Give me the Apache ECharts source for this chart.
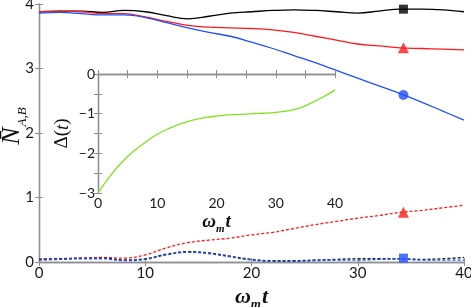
<!DOCTYPE html>
<html><head><meta charset="utf-8">
<script src="https://cdn.jsdelivr.net/npm/echarts@6/dist/echarts.min.js"></script>
<style>html,body{margin:0;padding:0;background:#fff}#c{width:471px;height:307px}</style>
</head><body><div id="c"></div>
<script>
const t = [0,2,4,6,8,10,12,14,16,18,20,22,24,26,28,30,32,34,36,38,40];
const blackSolid = [3.88,3.89,3.89,3.87,3.90,3.88,3.82,3.77,3.81,3.86,3.88,3.90,3.91,3.90,3.88,3.86,3.89,3.92,3.92,3.91,3.88];
const redSolid   = [3.88,3.89,3.88,3.85,3.85,3.80,3.73,3.67,3.64,3.63,3.62,3.60,3.56,3.50,3.44,3.38,3.35,3.32,3.31,3.30,3.29];
const blueSolid  = [3.86,3.87,3.85,3.83,3.83,3.79,3.71,3.63,3.56,3.50,3.41,3.31,3.20,3.09,2.97,2.85,2.73,2.61,2.48,2.34,2.20];
const redDash    = [0.05,0.05,0.06,0.07,0.06,0.11,0.22,0.30,0.34,0.37,0.42,0.46,0.52,0.58,0.63,0.68,0.72,0.77,0.80,0.84,0.88];
const blackDash  = [0.04,0.05,0.06,0.06,0.03,0.05,0.12,0.16,0.14,0.09,0.04,0.02,0.02,0.03,0.04,0.05,0.05,0.05,0.04,0.05,0.07];
const blueDash   = [0.03,0.04,0.05,0.05,0.02,0.04,0.11,0.15,0.13,0.08,0.03,0.01,0.01,0.02,0.03,0.03,0.04,0.05,0.03,0.03,0.03];
const delta      = [-3.00,-2.58,-2.23,-1.95,-1.72,-1.52,-1.37,-1.25,-1.16,-1.10,-1.06,-1.03,-1.02,-1.00,-0.99,-0.97,-0.93,-0.86,-0.73,-0.58,-0.40];
const markerT = 34.3;
const markerBlackSq = 3.92, markerRedTri = 3.32, markerBlueCirc = 2.59, markerRedTriDash = 0.77, markerBlueSq = 0.06;

const BLUE = '#1f50ff', RED = '#ff1a1a', GREEN = '#80e21e', FRAME = '#8f8f8f';
const pair = arr => t.map((x,i)=>[x,arr[i]]);
const minus = v => v < 0 ? '\u2212' + Math.abs(v) : String(v);

function axisCommon(extra){
  return Object.assign({
    type:'value',
    axisLine:{show:true,lineStyle:{color:FRAME,width:1.3}},
    axisTick:{show:true,inside:true,length:4,lineStyle:{color:FRAME,width:1}},
    splitLine:{show:false},
    axisLabel:{show:false}
  }, extra);
}
const labStyle = (size)=>({show:true,color:'#1a1a1a',fontFamily:'Lato',fontSize:size});
const serif = 'Liberation Serif';

const chart = echarts.init(document.getElementById('c'));
chart.setOption({
  animation:false,
  backgroundColor:'#fff',
  grid:[
    {left:39,top:4,width:425,height:258,outerBoundsMode:'none'},
    {left:98,top:74,width:237,height:119,show:true,backgroundColor:'#fff',borderWidth:0,z:3,outerBoundsMode:'none'}
  ],
  xAxis:[
    axisCommon({gridIndex:0,min:0,max:40,interval:10,position:'bottom',
      axisLabel:Object.assign(labStyle(15),{margin:4}),
      name:'{w|ω}{s|m}{w|t}',nameLocation:'middle',nameGap:17,
      nameTextStyle:{rich:{
        w:{fontFamily:serif,fontStyle:'italic',fontWeight:'bold',fontSize:22,color:'#111',lineHeight:24,verticalAlign:'bottom'},
        s:{fontFamily:serif,fontStyle:'italic',fontWeight:'bold',fontSize:13,color:'#111',lineHeight:13,verticalAlign:'bottom',padding:[0,1,-3,0]}
      }}}),
    axisCommon({gridIndex:0,min:0,max:40,interval:10,position:'top'}),
    axisCommon({gridIndex:1,min:0,max:40,interval:5,position:'bottom',z:4,
      axisLabel:Object.assign(labStyle(14),{margin:3,formatter:v=> v%10===0? String(v):''}),
      name:'{w|ω}{s|m}{w|t}',nameLocation:'middle',nameGap:18,
      nameTextStyle:{rich:{
        w:{fontFamily:serif,fontStyle:'italic',fontWeight:'bold',fontSize:19,color:'#111',lineHeight:21,verticalAlign:'bottom'},
        s:{fontFamily:serif,fontStyle:'italic',fontWeight:'bold',fontSize:11,color:'#111',lineHeight:11,verticalAlign:'bottom',padding:[0,1,-3,0]}
      }}}),
    axisCommon({gridIndex:1,min:0,max:40,interval:5,position:'top',z:4})
  ],
  yAxis:[
    axisCommon({gridIndex:0,min:0,max:4,interval:1,position:'left',
      axisLabel:Object.assign(labStyle(15),{margin:5}),
      name:'{n|N\u0304}{s|A,B}',nameLocation:'middle',nameGap:14,nameRotate:90,nameMoveOverlap:false,
      nameTextStyle:{padding:[0,0,0,14],rich:{
        n:{fontFamily:serif,fontStyle:'italic',fontSize:26,color:'#111',lineHeight:28,verticalAlign:'bottom'},
        s:{fontFamily:serif,fontStyle:'italic',fontSize:13,color:'#111',lineHeight:13,verticalAlign:'bottom',padding:[0,0,-4,1]}
      }}}),
    axisCommon({gridIndex:0,min:0,max:4,interval:1,position:'right'}),
    axisCommon({gridIndex:1,min:-3,max:0,interval:0.5,position:'left',z:4,
      axisLabel:Object.assign(labStyle(14),{margin:3,formatter:v=> Number.isInteger(v)? minus(v):''}),
      name:'{r|Δ(}{i|t}{r|)}',nameLocation:'middle',nameGap:26,nameRotate:90,nameMoveOverlap:false,
      nameTextStyle:{rich:{
        r:{fontFamily:serif,fontSize:19,color:'#111'},
        i:{fontFamily:serif,fontStyle:'italic',fontSize:19,color:'#111'}
      }}}),
    axisCommon({gridIndex:1,min:-3,max:0,interval:0.5,position:'right',z:4})
  ],
  series:[
    {type:'line',xAxisIndex:0,yAxisIndex:0,data:pair(blackSolid),smooth:0.4,showSymbol:false,lineStyle:{color:'#000',width:1.3},z:2},
    {type:'line',xAxisIndex:0,yAxisIndex:0,data:pair(redSolid),smooth:0.4,showSymbol:false,lineStyle:{color:RED,width:1.3},z:2},
    {type:'line',xAxisIndex:0,yAxisIndex:0,data:pair(blueSolid),smooth:0.4,showSymbol:false,lineStyle:{color:BLUE,width:1.3},z:2},
    {type:'line',xAxisIndex:0,yAxisIndex:0,data:pair(redDash),smooth:0.4,showSymbol:false,lineStyle:{color:RED,width:1.3,type:[3,2]},z:2},
    {type:'line',xAxisIndex:0,yAxisIndex:0,data:pair(blackDash),smooth:0.4,showSymbol:false,lineStyle:{color:'#222',width:1.4,type:[3,2]},z:2},
    {type:'line',xAxisIndex:0,yAxisIndex:0,data:pair(blueDash),smooth:0.4,showSymbol:false,lineStyle:{color:BLUE,width:1.3,type:[3,2]},z:2},
    {type:'scatter',xAxisIndex:0,yAxisIndex:0,data:[[markerT,markerBlackSq]],symbol:'rect',symbolSize:9,itemStyle:{color:'#000'},z:3},
    {type:'scatter',xAxisIndex:0,yAxisIndex:0,data:[[markerT,markerRedTri]],symbol:'triangle',symbolSize:11,itemStyle:{color:RED},z:3},
    {type:'scatter',xAxisIndex:0,yAxisIndex:0,data:[[markerT,markerBlueCirc]],symbol:'circle',symbolSize:10,itemStyle:{color:BLUE},z:3},
    {type:'scatter',xAxisIndex:0,yAxisIndex:0,data:[[markerT,markerRedTriDash]],symbol:'triangle',symbolSize:11,itemStyle:{color:RED},z:3},
    {type:'scatter',xAxisIndex:0,yAxisIndex:0,data:[[markerT,markerBlueSq]],symbol:'rect',symbolSize:9,itemStyle:{color:BLUE},z:3},
    {type:'line',xAxisIndex:2,yAxisIndex:2,data:pair(delta),smooth:0.4,showSymbol:false,lineStyle:{color:GREEN,width:1.3},z:6}
  ]
});
</script></body></html>
